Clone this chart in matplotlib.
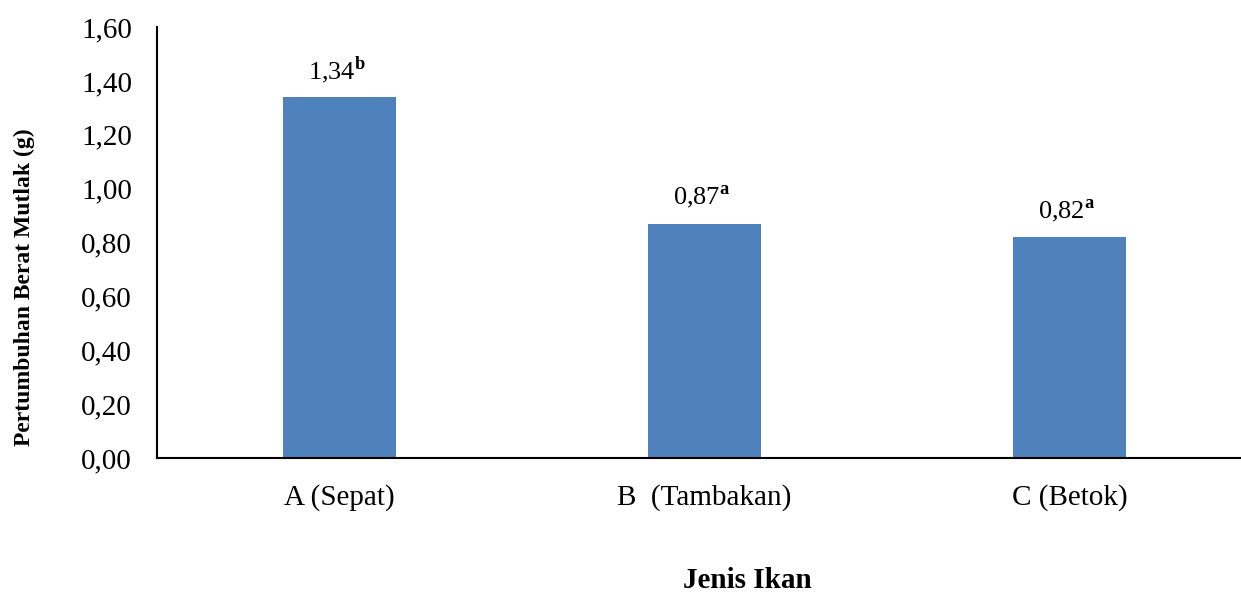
import matplotlib
matplotlib.use("Agg")
import matplotlib.pyplot as plt

categories = ["A (Sepat)", "B  (Tambakan)", "C (Betok)"]
values = [1.34, 0.87, 0.82]
letters = ["b", "a", "a"]
yticks = [0.0, 0.2, 0.4, 0.6, 0.8, 1.0, 1.2, 1.4, 1.6]

plt.rcParams['font.family'] = ['Liberation Serif', 'DejaVu Serif']
plt.rcParams['mathtext.fontset'] = 'custom'
plt.rcParams['mathtext.rm'] = 'Liberation Serif'
plt.rcParams['mathtext.bf'] = 'Liberation Serif:bold'

fig = plt.figure(figsize=(12.41, 5.92), dpi=100)
ax = fig.add_axes([157/1241, 1-458/592, 1-157/1241, (458-27)/592])

x = list(range(len(categories)))
ax.bar(x, values, width=0.31, color="#4F81BD", zorder=2)
ax.set_xlim(-0.5, 2.47)
ax.set_ylim(0, 1.6)
ax.set_yticks(yticks)
ax.set_yticklabels([f"{v:.2f}".replace(".", ",") for v in yticks], fontsize=21)
ax.set_xticks(x)
ax.set_xticklabels(categories, fontsize=21)
ax.tick_params(axis='both', length=0)
ax.tick_params(axis='y', pad=18)
ax.tick_params(axis='x', pad=19)
for s in ["top", "right"]:
    ax.spines[s].set_visible(False)
for s in ["left", "bottom"]:
    ax.spines[s].set_linewidth(1.5)

for xi, v, l in zip(x, values, letters):
    ax.annotate(f"{v:.2f}".replace(".", ",") + r"$^{\mathbf{" + l + "}}$",
                (xi, v), xytext=(-2, 9), textcoords="offset points",
                ha="center", va="bottom", fontsize=19)

fig.text(24/1241, 1-287/592, "Pertumbuhan Berat Mutlak (g)", rotation=90,
         fontsize=17, fontweight="bold", ha="center", va="center")
fig.text(747/1241, 1-580/592, "Jenis Ikan", fontsize=21, fontweight="bold",
         ha="center", va="center")

fig.savefig("out.png", dpi=100)
